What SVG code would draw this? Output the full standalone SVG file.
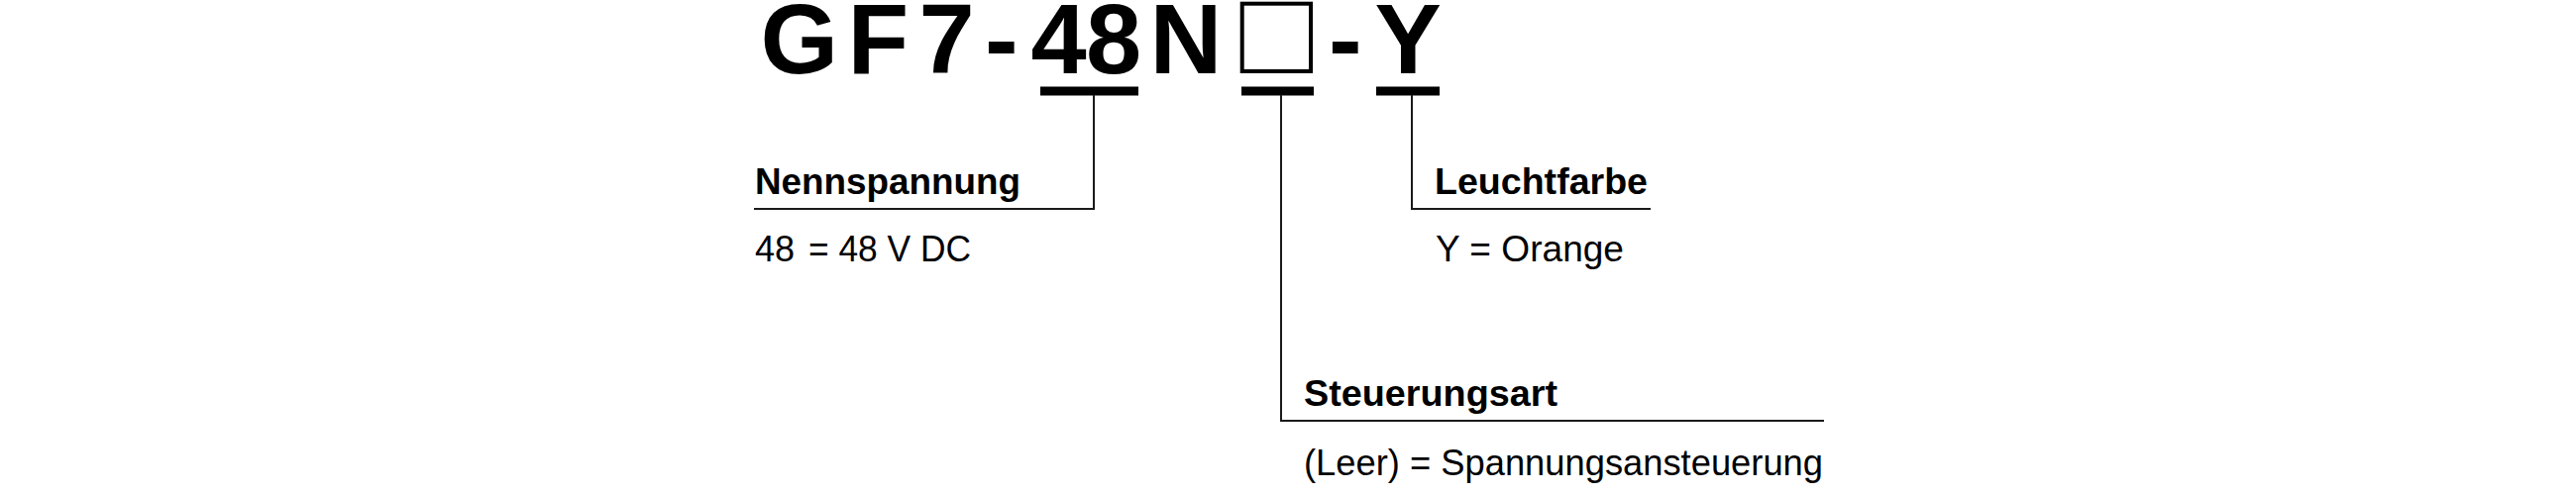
<svg xmlns="http://www.w3.org/2000/svg" width="2600" height="500" viewBox="0 0 2600 500">
<style>
.code{font-family:"Liberation Sans",Arial,sans-serif;font-weight:bold;font-size:101px;fill:#000}
.hd{font-family:"Liberation Sans",Arial,sans-serif;font-weight:bold;font-size:37px;fill:#000}
.val{font-family:"Liberation Sans",Arial,sans-serif;font-size:36px;fill:#000}
.bar{fill:#000}
.ln{fill:none;stroke:#1a1a1a;stroke-width:2}
</style>
<rect width="2600" height="500" fill="#fff"/>
<g id="code">
<text class="code" x="767.5 855.5 927.5 994 1040.5 1096 1160.5" y="74">GF7-48N</text>
<rect x="1253.7" y="3.7" width="69.3" height="68.3" fill="none" stroke="#000" stroke-width="4"/>
<text class="code" x="1341 1387.5" y="74">-Y</text>
</g>
<g id="connectors">
<rect class="bar" x="1050" y="87.5" width="99" height="9"/>
<rect class="bar" x="1253" y="87.5" width="73" height="9"/>
<rect class="bar" x="1389" y="87.5" width="64" height="9"/>
<polyline class="ln" points="1104,96 1104,211 761,211"/>
<polyline class="ln" points="1293,96 1293,425 1841,425"/>
<polyline class="ln" points="1425,96 1425,211 1666,211"/>
</g>
<g id="nennspannung">
<text class="hd" x="762" y="196" textLength="268" lengthAdjust="spacingAndGlyphs">Nennspannung</text>
<text class="val" x="762" y="264">48</text>
<text class="val" x="816" y="264" textLength="164" lengthAdjust="spacingAndGlyphs">= 48 V DC</text>
</g>
<g id="steuerungsart">
<text class="hd" x="1316" y="410" textLength="256" lengthAdjust="spacingAndGlyphs">Steuerungsart</text>
<text class="val" x="1316" y="480" textLength="524" lengthAdjust="spacingAndGlyphs">(Leer) = Spannungsansteuerung</text>
</g>
<g id="leuchtfarbe">
<text class="hd" x="1448" y="196" textLength="215" lengthAdjust="spacingAndGlyphs">Leuchtfarbe</text>
<text class="val" x="1449" y="264" textLength="190" lengthAdjust="spacingAndGlyphs">Y = Orange</text>
</g>
</svg>
